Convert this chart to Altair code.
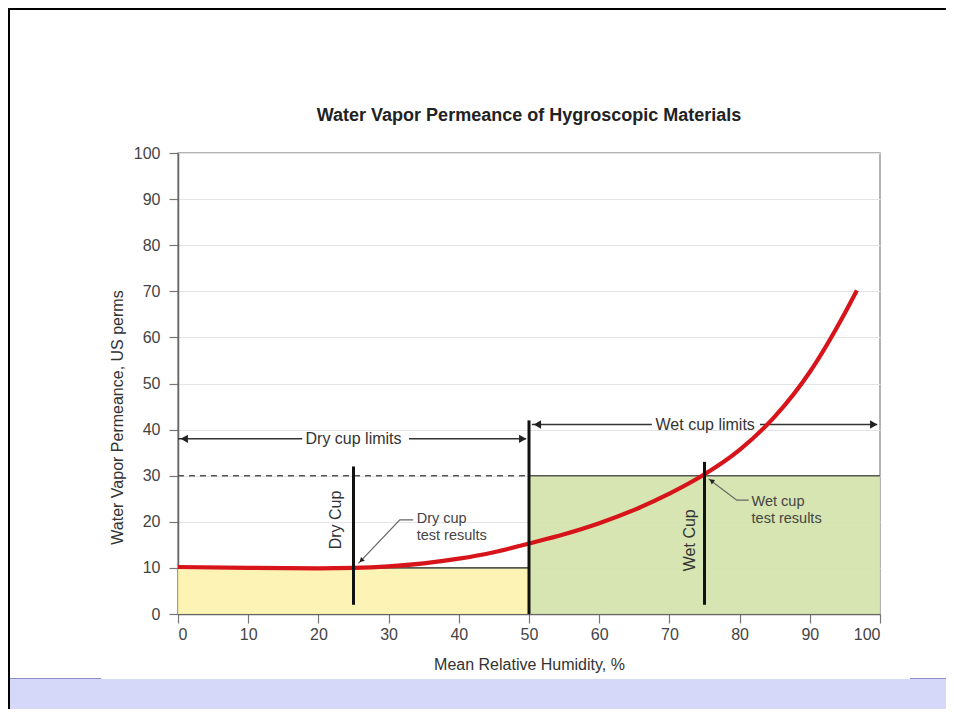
import altair as alt
import pandas as pd

# ---------------- data ----------------
rh = [0, 10, 20, 25, 30, 35, 40, 45, 50, 55, 60, 65, 70, 75, 80, 85, 90, 95, 96.7]
perm = [10.2, 10.0, 9.9, 10.0, 10.35, 11.0, 12.0, 13.4, 15.3, 17.3, 19.7, 22.6, 26.1, 30.3, 35.6, 42.8, 52.5, 65.3, 70.2]

title_text = "Water Vapor Permeance of Hygroscopic Materials"

region_name = ["Dry", "Wet"]
region_x0 = [0, 50]
region_x1 = [50, 100]
region_top = [10, 30]

marker_x = [25, 50, 75]
marker_y0 = [2, 0, 2]
marker_y1 = [32, 42, 33]

limit_label = ["Dry cup limits", "Wet cup limits"]
limit_center = [25, 75.1]
limit_y = [38, 41.1]
limit_seg_x0 = [0, 32.9, 50.4, 82.9]
limit_seg_x1 = [17.7, 49.6, 67.5, 99.6]
limit_seg_y = [38, 38, 41.1, 41.1]
limit_head_x = [0.9, 49.1, 51.2, 99.1]
limit_head_y = [38, 38, 41.1, 41.1]
limit_head_shape = ["triangle-left", "triangle-right", "triangle-left", "triangle-right"]

cup_label = ["Dry Cup", "Wet Cup"]
cup_label_x = [22.5, 73.0]
cup_label_y = [20.4, 16.0]

result_lines = ["Dry cup", "test results", "Wet cup", "test results"]
result_x = [34.0, 34.0, 81.7, 81.7]
result_y = [20.6, 17.0, 24.3, 20.6]

leader_group = ["d", "d", "d", "w", "w", "w"]
leader_order = [0, 1, 2, 0, 1, 2]
leader_x = [25.7, 31.6, 33.5, 75.6, 79.6, 81.3]
leader_y = [11.0, 20.4, 20.4, 29.3, 24.7, 24.7]
leader_head_x = [26.1, 76.0]
leader_head_y = [11.6, 28.9]
leader_head_angle = [225, 307]

dash_x0, dash_x1, dash_y = [0], [50], [30]
edge_x0 = [0, 50]
edge_x1 = [50, 100]
edge_y = [10, 30]

FONT = "Liberation Sans"
W, H = 702, 461
PAD = {"left": 170, "top": 145, "right": 66, "bottom": 95}

xs = alt.Scale(domain=[0, 100], nice=False)
ys = alt.Scale(domain=[0, 100], nice=False)

one = pd.DataFrame({"a": [0]})

# ---------------- page decorations ----------------
top_border = alt.Chart(one).mark_rect(color="black").encode(
    x=alt.value(-PAD["left"]), x2=alt.value(W + PAD["right"]),
    y=alt.value(-PAD["top"] - 1), y2=alt.value(-PAD["top"] + 2))
left_border = alt.Chart(one).mark_rect(color="black").encode(
    x=alt.value(-PAD["left"] - 1), x2=alt.value(-PAD["left"] + 2),
    y=alt.value(-PAD["top"]), y2=alt.value(H + PAD["bottom"]))
band = alt.Chart(one).mark_rect(color="#D6D8FA").encode(
    x=alt.value(-PAD["left"] + 2), x2=alt.value(W + PAD["right"]),
    y=alt.value(526), y2=alt.value(H + PAD["bottom"]))
band_line_l = alt.Chart(one).mark_rect(color="#8C90C8").encode(
    x=alt.value(-PAD["left"] + 2), x2=alt.value(-77),
    y=alt.value(525), y2=alt.value(526))
band_line_r = alt.Chart(one).mark_rect(color="#8C90C8").encode(
    x=alt.value(732), x2=alt.value(W + PAD["right"]),
    y=alt.value(525), y2=alt.value(526))

title_layer = alt.Chart(pd.DataFrame({"t": [title_text]})).mark_text(
    font=FONT, fontSize=18, fontWeight="bold", color="#222222", baseline="middle"
).encode(x=alt.datum(50, scale=xs), y=alt.value(-37), text="t:N")

# ---------------- plot ----------------
regions = pd.DataFrame({"name": region_name, "x0": region_x0, "x1": region_x1, "top": region_top})
region_layer = alt.Chart(regions).mark_rect(opacity=0.9).encode(
    x=alt.X("x0:Q", scale=xs,
            axis=alt.Axis(values=list(range(0, 101, 10)), title="Mean Relative Humidity, %")),
    x2="x1:Q",
    y=alt.Y("top:Q", scale=ys,
            axis=alt.Axis(values=list(range(0, 101, 10)), title="Water Vapor Permeance, US perms",
                          titleY=264)),
    y2=alt.datum(0),
    color=alt.Color("name:N", scale=alt.Scale(domain=region_name, range=["#FDF2AD", "#D1E2A9"]), legend=None),
)

edges = pd.DataFrame({"x0": edge_x0, "x1": edge_x1, "y": edge_y})
edge_layer = alt.Chart(edges).mark_rule(color="#55594F", strokeWidth=1.6).encode(
    x=alt.X("x0:Q", scale=xs), x2="x1:Q", y=alt.Y("y:Q", scale=ys))

dash = pd.DataFrame({"x0": dash_x0, "x1": dash_x1, "y": dash_y})
dash_layer = alt.Chart(dash).mark_rule(color="#555555", strokeWidth=1.6, strokeDash=[6, 5]).encode(
    x=alt.X("x0:Q", scale=xs), x2="x1:Q", y=alt.Y("y:Q", scale=ys))

segs = pd.DataFrame({"x0": limit_seg_x0, "x1": limit_seg_x1, "y": limit_seg_y})
seg_layer = alt.Chart(segs).mark_rule(color="#333333", strokeWidth=1.6).encode(
    x=alt.X("x0:Q", scale=xs), x2="x1:Q", y=alt.Y("y:Q", scale=ys))

heads = pd.DataFrame({"x": limit_head_x, "y": limit_head_y, "shape": limit_head_shape})
head_layer = alt.Chart(heads).mark_point(filled=True, color="#222222", size=70, opacity=1).encode(
    x=alt.X("x:Q", scale=xs), y=alt.Y("y:Q", scale=ys),
    shape=alt.Shape("shape:N", scale=None, legend=None))

limits = pd.DataFrame({"label": limit_label, "x": limit_center, "y": limit_y})
limit_text = alt.Chart(limits).mark_text(font=FONT, fontSize=16, color="#333333", baseline="middle").encode(
    x=alt.X("x:Q", scale=xs), y=alt.Y("y:Q", scale=ys), text="label:N")

curve = pd.DataFrame({"rh": rh, "perm": perm})
curve_layer = alt.Chart(curve).mark_line(color="#D8141B", strokeWidth=4.2, interpolate="monotone").encode(
    x=alt.X("rh:Q", scale=xs), y=alt.Y("perm:Q", scale=ys))

markers = pd.DataFrame({"x": marker_x, "y0": marker_y0, "y1": marker_y1})
marker_layer = alt.Chart(markers).mark_rule(color="#111111", strokeWidth=3).encode(
    x=alt.X("x:Q", scale=xs), y=alt.Y("y0:Q", scale=ys), y2="y1:Q")

leaders = pd.DataFrame({"g": leader_group, "o": leader_order, "x": leader_x, "y": leader_y})
leader_layer = alt.Chart(leaders).mark_line(color="#666666", strokeWidth=1.2).encode(
    x=alt.X("x:Q", scale=xs), y=alt.Y("y:Q", scale=ys), detail="g:N", order="o:Q")

lheads = pd.DataFrame({"x": leader_head_x, "y": leader_head_y, "angle": leader_head_angle})
lhead_layer = alt.Chart(lheads).mark_point(filled=True, shape="triangle-up", color="#222222", size=30, opacity=1).encode(
    x=alt.X("x:Q", scale=xs), y=alt.Y("y:Q", scale=ys),
    angle=alt.Angle("angle:Q", scale=None))

cups = pd.DataFrame({"label": cup_label, "x": cup_label_x, "y": cup_label_y})
cup_text = alt.Chart(cups).mark_text(font=FONT, fontSize=16, color="#333333", angle=270, baseline="middle").encode(
    x=alt.X("x:Q", scale=xs), y=alt.Y("y:Q", scale=ys), text="label:N")

results = pd.DataFrame({"t": result_lines, "x": result_x, "y": result_y})
result_text = alt.Chart(results).mark_text(font=FONT, fontSize=14.5, color="#444444", align="left", baseline="middle").encode(
    x=alt.X("x:Q", scale=xs), y=alt.Y("y:Q", scale=ys), text="t:N")

chart = alt.layer(
    band, band_line_l, band_line_r, top_border, left_border, title_layer,
    region_layer, edge_layer, dash_layer, seg_layer, head_layer, limit_text,
    curve_layer, marker_layer, leader_layer, lhead_layer, cup_text, result_text,
).properties(
    width=W, height=H,
    autosize=alt.AutoSizeParams(type="none"),
    padding=PAD,
    background="white",
).configure_view(
    stroke="#9A9A9A", strokeWidth=1.5
).configure_axis(
    labelFont=FONT, titleFont=FONT, labelFontSize=16, titleFontSize=16,
    labelColor="#444444", titleColor="#333333", titleFontWeight="normal",
    domainColor="#666666", domainWidth=1.5, tickColor="#777777", tickSize=9, tickWidth=1.2,
    gridColor="#E4E4E4", gridWidth=1,
).configure_axisX(
    labelPadding=3, titlePadding=14
).configure_axisY(
    labelPadding=9, titlePadding=8
)

chart.save("out.html", embed_options={"renderer": "svg", "actions": False})
